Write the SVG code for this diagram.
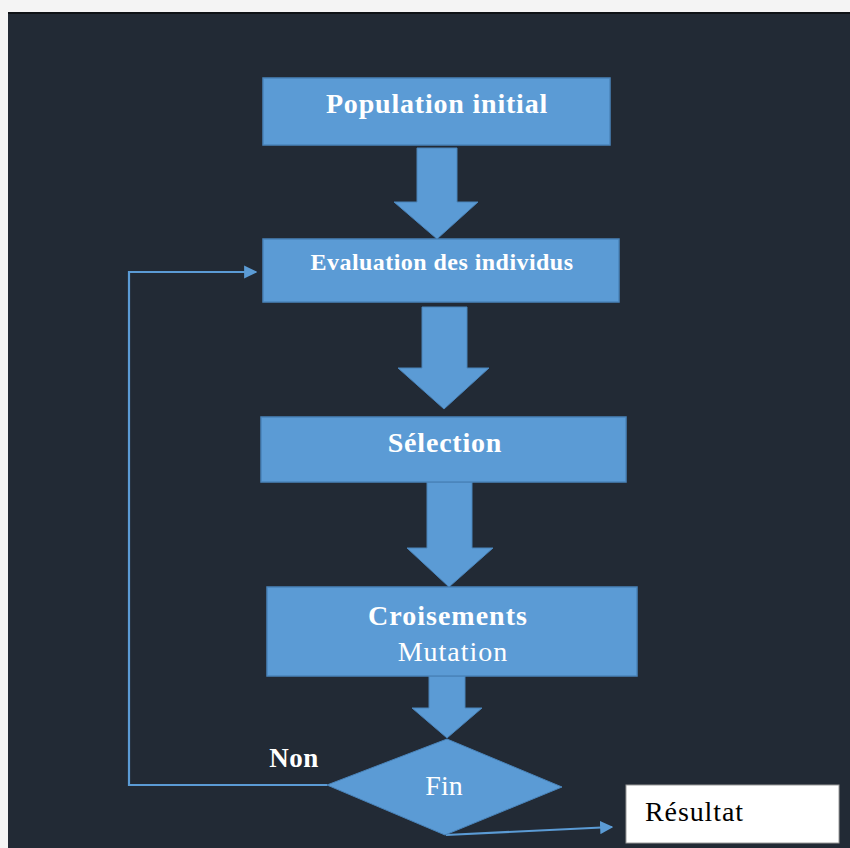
<svg xmlns="http://www.w3.org/2000/svg" width="850" height="848" viewBox="0 0 850 848">
  <defs>
    <style>
      .box { fill: #5b9bd5; stroke: #4a84ba; stroke-width: 1.5; }
      .blk { fill: #5b9bd5; stroke: #4a84ba; stroke-width: 1; }
      .lbl { font-family: "Liberation Serif", "Times New Roman", serif; fill: #ffffff; text-anchor: middle; letter-spacing: 0.8px; }
      .b { font-weight: bold; }
      .link { fill: none; stroke: #5b9bd5; stroke-width: 2.2; }
    </style>
    <marker id="head" viewBox="0 0 10 10" refX="9" refY="5" markerWidth="6" markerHeight="6" markerUnits="strokeWidth" orient="auto">
      <path d="M0,0 L10,5 L0,10 Z" fill="#5b9bd5"/>
    </marker>
  </defs>

  <!-- page margin and dark canvas -->
  <rect x="0" y="0" width="850" height="848" fill="#f4f4f4"/>
  <rect x="8" y="12" width="842" height="836" fill="#222a35"/>
  <rect x="8" y="12" width="842" height="2" fill="#0f1216"/>

  <!-- block arrows between steps -->
  <g id="arrows">
    <path class="blk" d="M417,148 H457 V202 H478 L437,239 L394,202 H417 Z"/>
    <path class="blk" d="M422,307 H467 V368 H489 L444,409 L398,368 H422 Z"/>
    <path class="blk" d="M427,482 H472 V548 H493 L449,587 L407,548 H427 Z"/>
    <path class="blk" d="M429,676 H465 V708 H482 L447,738 L412,708 H429 Z"/>
  </g>

  <!-- connectors -->
  <g id="connectors">
    <polyline class="link" points="327,785 129,785 129,272 256,272" marker-end="url(#head)"/>
    <line class="link" x1="446" y1="835" x2="612" y2="827" marker-end="url(#head)"/>
  </g>

  <g id="population">
    <rect class="box" x="263" y="78" width="347" height="67"/>
    <text class="lbl b" x="437" y="113" font-size="28">Population initial</text>
  </g>

  <g id="evaluation">
    <rect class="box" x="263" y="239" width="356" height="63"/>
    <text class="lbl b" x="442" y="270" font-size="24" style="letter-spacing:0.45px">Evaluation des individus</text>
  </g>

  <g id="selection">
    <rect class="box" x="261" y="417" width="365" height="65"/>
    <text class="lbl b" x="445" y="452" font-size="28">Sélection</text>
  </g>

  <g id="croisements">
    <rect class="box" x="267" y="587" width="370" height="89"/>
    <text class="lbl b" x="448" y="625" font-size="28" style="letter-spacing:1px">Croisements</text>
    <text class="lbl" x="453" y="661" font-size="28" style="letter-spacing:1px">Mutation</text>
  </g>

  <g id="fin">
    <polygon class="blk" points="447,739 562,787 445,835 327,785"/>
    <text class="lbl" x="444" y="795" font-size="28" style="letter-spacing:0">Fin</text>
  </g>

  <g id="non">
    <text class="lbl b" x="294" y="767" font-size="27" style="letter-spacing:0.5px">Non</text>
  </g>

  <g id="resultat">
    <rect x="626" y="785" width="213" height="58" fill="#ffffff" stroke="#9a9a9a" stroke-width="1"/>
    <text x="645" y="821" font-size="28" font-family="Liberation Serif, Times New Roman, serif" fill="#000000" letter-spacing="0.9">Résultat</text>
  </g>
</svg>
